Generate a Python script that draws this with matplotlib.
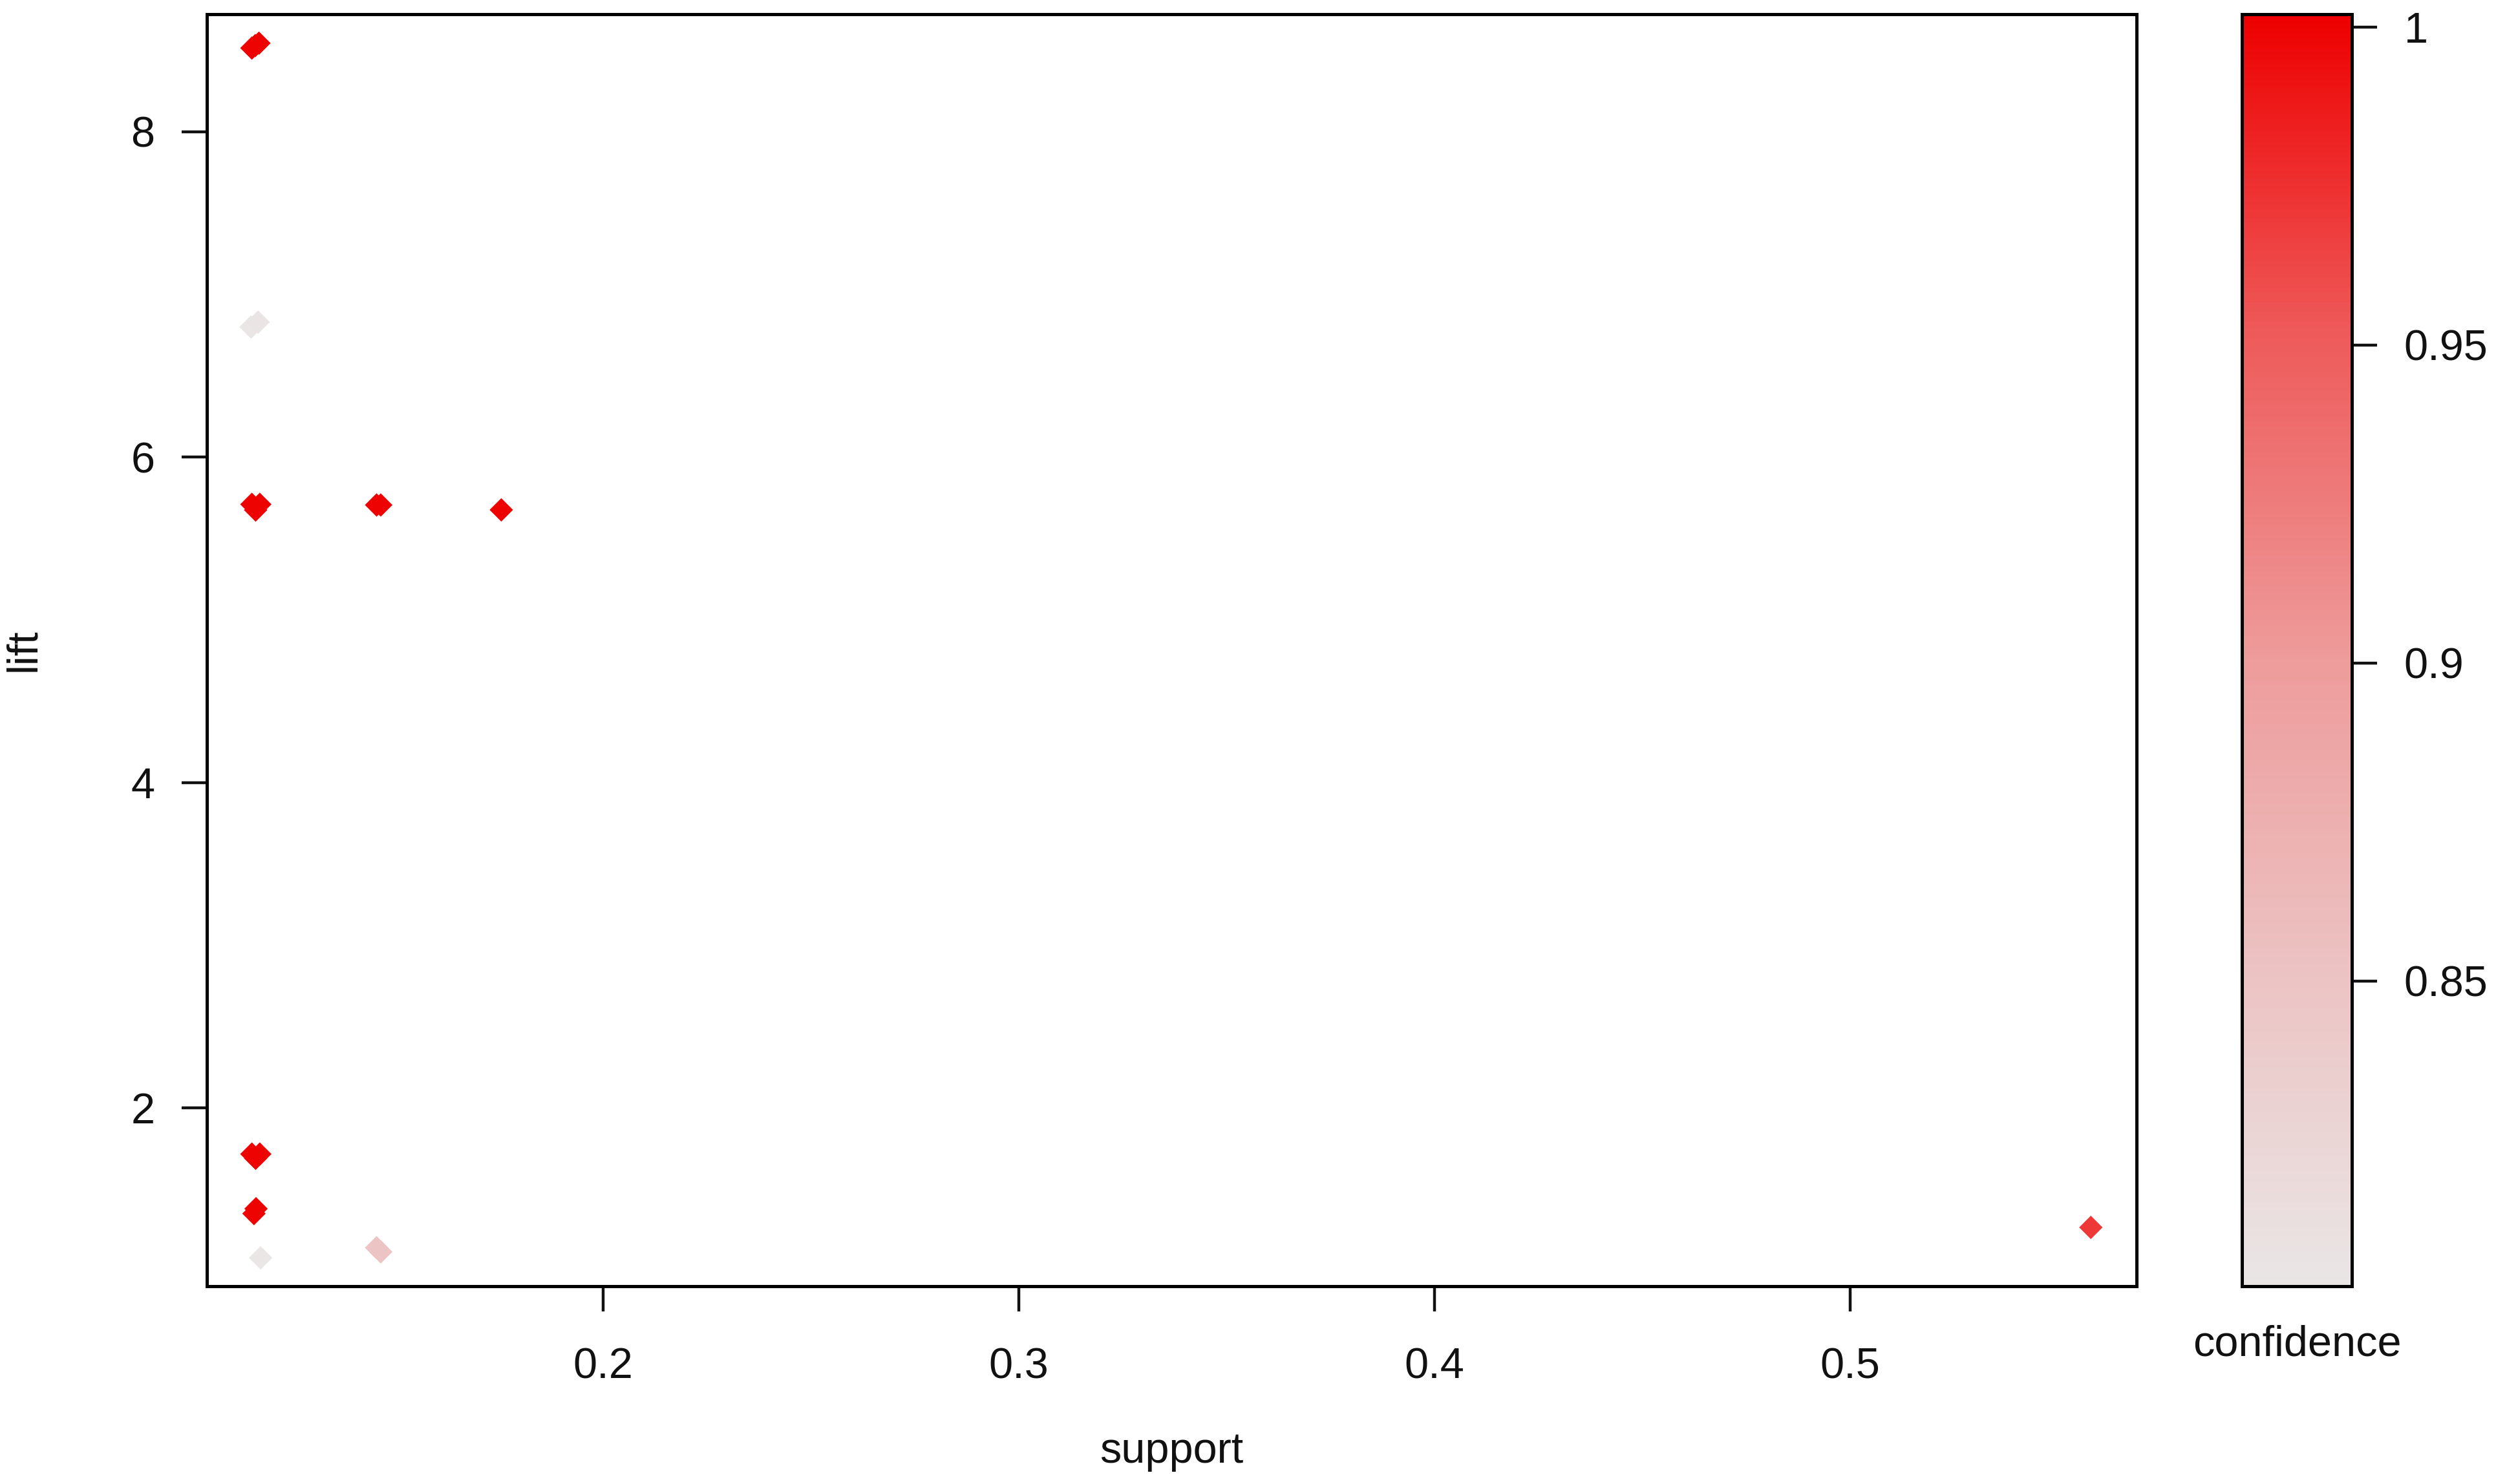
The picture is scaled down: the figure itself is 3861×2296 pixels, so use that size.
import matplotlib
matplotlib.use("Agg")
import matplotlib.pyplot as plt
from matplotlib.colors import LinearSegmentedColormap, Normalize
import matplotlib.cm as cm

plt.rcParams['font.family'] = ['Liberation Sans', 'DejaVu Sans']

# rules: support, lift, confidence (overlapping points kept)
support = [0.1155, 0.1172, 0.1163,
           0.1153, 0.1170,
           0.1155, 0.1174, 0.1164,
           0.1455, 0.1465,
           0.1755,
           0.1155, 0.1174, 0.1164,
           0.1160, 0.1165,
           0.1176,
           0.1455, 0.1465,
           0.5579]
lift = [8.515, 8.545, 8.53,
        6.80, 6.83,
        5.71, 5.71, 5.675,
        5.706, 5.706,
        5.676,
        1.716, 1.716, 1.69,
        1.35, 1.38,
        1.078,
        1.14, 1.115,
        1.265]
confidence = [1.0, 1.0, 1.0,
              0.80, 0.805,
              1.0, 1.0, 1.0,
              1.0, 1.0,
              1.0,
              1.0, 1.0, 1.0,
              1.0, 1.0,
              0.80,
              0.85, 0.85,
              0.97]

x_ticks = [0.2, 0.3, 0.4, 0.5]
y_ticks = [2, 4, 6, 8]
cb_ticks = [0.85, 0.9, 0.95, 1.0]
cb_labels = ['0.85', '0.9', '0.95', '1']

W, H = 3862, 2296
fig = plt.figure(figsize=(W / 100, H / 100), dpi=100)

cmap = LinearSegmentedColormap.from_list(
    'conf', [(0.0, '#EAE6E6'), (0.25, '#ECC2C2'), (0.5, '#EE9A9A'),
             (0.75, '#EE5A5A'), (1.0, '#EE0000')])
norm = Normalize(vmin=0.802, vmax=1.002)

ax = fig.add_axes([320 / W, 1 - 1990 / H, (3305 - 320) / W, (1990 - 22) / H])
order = sorted(range(len(confidence)), key=lambda i: confidence[i])
ax.scatter([support[i] for i in order], [lift[i] for i in order],
           c=[confidence[i] for i in order], cmap=cmap, norm=norm,
           marker='D', s=340, linewidths=0)
ax.set_xlim(0.10467, 0.5689)
ax.set_ylim(0.9035, 8.723)
ax.set_xticks(x_ticks)
ax.set_xticklabels(['0.2', '0.3', '0.4', '0.5'])
ax.set_yticks(y_ticks)
ax.set_yticklabels(['2', '4', '6', '8'])
for s in ax.spines.values():
    s.set_linewidth(3.6)
ax.tick_params(direction='out', length=28, width=3.2, labelsize=48,
               colors='#111111')
ax.tick_params(axis='x', pad=40)
ax.tick_params(axis='y', pad=30)

fig.text(1812 / W, 1 - 2246 / H, 'support', fontsize=48, ha='center',
         va='center', color='#111111')
fig.text(37 / W, 1 - 1006 / H, 'lift', fontsize=48, ha='center',
         va='center', rotation=90, color='#111111')

cax = fig.add_axes([3468 / W, 1 - 1990 / H, (3638 - 3468) / W, (1990 - 22) / H])
cb = fig.colorbar(cm.ScalarMappable(norm=norm, cmap=cmap), cax=cax)
cb.set_ticks(cb_ticks)
cb.set_ticklabels(cb_labels)
cb.outline.set_linewidth(3.6)
cax.tick_params(direction='out', length=28, width=3.2, labelsize=48,
                pad=30, colors='#111111')
fig.text(3553 / W, 1 - 2081 / H, 'confidence', fontsize=48, ha='center',
         va='center', color='#111111')

fig.savefig('out.png', dpi=100, facecolor='white')
